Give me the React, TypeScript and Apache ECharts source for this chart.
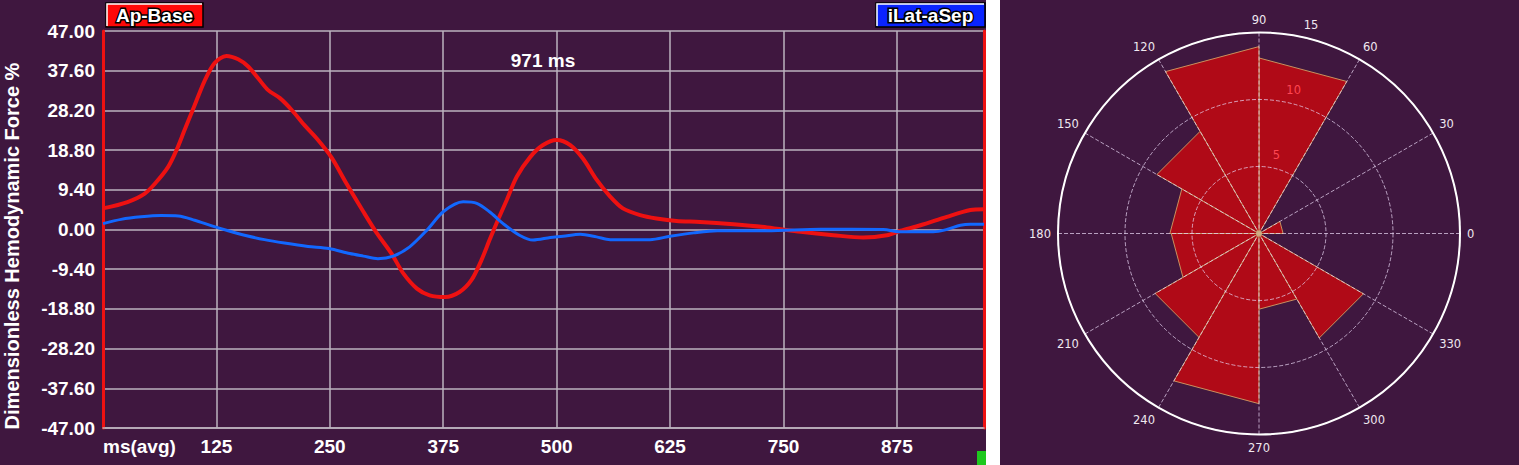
import React, { useEffect, useRef } from "react";
import * as echarts from "echarts";

// ---------- Left panel: hemodynamic force curves ----------
const xTickStep = 125;
const xMax = 971;
const yMin = -47;
const yMax = 47;
const yStep = 9.4;

const redTimes = [0, 27, 46, 59, 72, 81, 90, 101, 112, 123, 136, 149, 160, 171, 182, 195, 208, 222, 237, 252, 268, 287, 301, 318, 331, 346, 360, 377, 393, 406, 417, 426, 436, 445, 456, 471, 485, 500, 515, 529, 544, 559, 573, 592, 610, 632, 658, 695, 732, 769, 805, 838, 864, 879, 901, 930, 956, 971];
const redValues = [5.0, 6.5, 8.5, 11.3, 14.9, 18.8, 23.6, 29.4, 35.2, 39.4, 41.1, 40.3, 38.6, 35.8, 33.0, 31.1, 28.3, 24.7, 21.2, 17.0, 11.0, 4.2, -0.6, -5.7, -10.4, -14.0, -15.6, -16.0, -14.8, -12.0, -7.3, -2.5, 2.6, 7.0, 12.5, 17.2, 20.0, 21.2, 20.0, 16.8, 11.8, 7.8, 5.0, 3.4, 2.6, 2.0, 1.8, 1.25, 0.5, -0.55, -1.35, -1.9, -1.35, -0.3, 1.0, 3.0, 4.6, 4.8];

const blueTimes = [0, 20, 42, 64, 83, 101, 120, 138, 156, 178, 200, 226, 249, 272, 287, 303, 320, 338, 357, 375, 397, 412, 426, 441, 459, 474, 493, 507, 526, 544, 559, 603, 625, 651, 677, 732, 791, 860, 879, 915, 930, 945, 956, 971];
const blueValues = [1.4, 2.4, 3.0, 3.3, 3.2, 2.2, 0.85, -0.3, -1.35, -2.4, -3.2, -4.0, -4.5, -5.7, -6.3, -6.9, -6.3, -4.1, -0.15, 4.2, 6.55, 6.2, 4.2, 1.4, -1.35, -2.5, -1.9, -1.6, -1.1, -1.75, -2.4, -2.4, -1.6, -0.8, -0.3, -0.3, 0.05, 0.0, -0.55, -0.55, 0.0, 1.0, 1.25, 1.25];

const seriesNames = ["Ap-Base", "iLat-aSep"];
const durationLabel = "971 ms";
const yAxisTitle = "Dimensionless Hemodynamic Force %";
const firstXLabel = "ms(avg)";

// ---------- Right panel: polar histogram ----------
const sectorStarts = [0, 30, 60, 90, 120, 150, 180, 210, 240, 270, 300, 330];
const sectorValues = [1.8, 0, 13.1, 13.95, 8.8, 6.65, 6.55, 8.95, 12.7, 5.65, 9.0, 0];
const sectorWidth = 30;
const radiusMax = 15;
const radiusStep = 5;

// ---------- Styles ----------
const BG = "#3f173f";
const GRID = "#bdb3bf";
const RED = "#ee1111";
const BLUE = "#1268ff";
const BAR = "#b00a17";
const EDGE = "#c8905e";
const FONT = "'Liberation Sans', Arial, sans-serif";
const POLAR_FONT = "'DejaVu Sans', Verdana, sans-serif";
const POLAR_DASH = "rgba(232,214,242,0.72)";

const zip = (xs: number[], ys: number[]) => xs.map((x, i) => [x, ys[i]]);

function legendBox(x: number, w: number, fill: string, text: string) {
  return {
    type: "group",
    x,
    y: 3,
    children: [
      { type: "rect", shape: { x: 0, y: 0, width: w, height: 24 }, style: { fill, stroke: "#000", lineWidth: 1.5 } },
      { type: "polyline", shape: { points: [[1, 23], [1, 1], [w - 1, 1]] }, style: { stroke: "#fff", lineWidth: 1.5, fill: null } },
      {
        type: "text",
        x: w / 2,
        y: 12.5,
        style: {
          text,
          fill: "#fff",
          stroke: "#000",
          lineWidth: 3,
          fontFamily: FONT,
          fontWeight: "bold",
          fontSize: 19,
          align: "center",
          verticalAlign: "middle",
        },
      },
    ],
  };
}

export default function App() {
  const ref = useRef<HTMLDivElement>(null);

  useEffect(() => {
    const chart = echarts.init(ref.current!, null, { renderer: "svg" });
    const option: any = {
      animation: false,
      backgroundColor: BG,
      textStyle: { fontFamily: FONT },
      grid: { left: 103, top: 31, width: 881, height: 397, containLabel: false },
      xAxis: {
        type: "value",
        min: 0,
        max: xMax,
        interval: xTickStep,
        axisLine: { show: true, onZero: false, lineStyle: { color: GRID, width: 1.5 } },
        axisTick: { show: false },
        splitLine: { show: true, lineStyle: { color: GRID, width: 1.5 } },
        axisLabel: {
          color: "#fff",
          fontWeight: "bold",
          fontSize: 19,
          fontFamily: FONT,
          margin: 9,
          showMaxLabel: false,
          alignMinLabel: "left",
          formatter: (v: number) => (v === 0 ? firstXLabel : String(v)),
        },
      },
      yAxis: [
        {
          type: "value",
          min: yMin,
          max: yMax,
          interval: yStep,
          axisLine: { show: true, onZero: false, lineStyle: { color: RED, width: 3 } },
          axisTick: { show: false },
          splitLine: { show: true, lineStyle: { color: GRID, width: 1.5 } },
          axisLabel: {
            color: "#fff",
            fontWeight: "bold",
            fontSize: 19,
            fontFamily: FONT,
            margin: 8,
            formatter: (v: number) => (Math.abs(v) < 1e-9 ? 0 : v).toFixed(2),
          },
        },
        {
          type: "value",
          position: "right",
          min: yMin,
          max: yMax,
          interval: yStep,
          axisLine: { show: true, onZero: false, lineStyle: { color: RED, width: 3 } },
          axisTick: { show: false },
          splitLine: { show: false },
          axisLabel: { show: false },
        },
      ],
      polar: [
        { center: [1259, 233.5], radius: 201 },
        { center: [1259, 233.5], radius: 201 },
      ],
      angleAxis: [
        {
          polarIndex: 0,
          type: "value",
          min: 0,
          max: 360,
          interval: 30,
          startAngle: 0,
          clockwise: false,
          z: 3,
          axisLine: { show: true, lineStyle: { color: "#ffffff", width: 2 } },
          axisTick: { show: false },
          axisLabel: { color: "#f0e8f0", fontFamily: POLAR_FONT, fontSize: 11.5, margin: 7 },
          splitLine: { show: true, lineStyle: { color: POLAR_DASH, type: "dashed", width: 1 } },
        },
        {
          polarIndex: 1,
          type: "value",
          min: 0,
          max: 360,
          startAngle: 75,
          show: false,
        },
      ],
      radiusAxis: [
        {
          polarIndex: 0,
          type: "value",
          min: 0,
          max: radiusMax,
          interval: radiusStep,
          z: 3,
          axisLine: { show: false },
          axisTick: { show: false },
          axisLabel: { show: false },
          splitLine: { show: true, lineStyle: { color: POLAR_DASH, type: "dashed", width: 1 } },
        },
        {
          polarIndex: 1,
          type: "value",
          min: 0,
          max: radiusMax,
          interval: radiusStep,
          z: 4,
          axisLine: { show: false },
          axisTick: { show: false },
          splitLine: { show: false },
          axisLabel: {
            showMinLabel: false,
            align: "center",
            verticalAlign: "bottom",
            margin: 0,
            padding: [0, 0, 8, 0],
            fontFamily: POLAR_FONT,
            fontSize: 11.5,
            color: (v: any) => (Number(v) === radiusMax ? "#f0e8f0" : "#ff4652"),
          },
        },
      ],
      series: [
        {
          name: seriesNames[0],
          type: "line",
          xAxisIndex: 0,
          yAxisIndex: 0,
          data: zip(redTimes, redValues),
          smooth: 0.3,
          showSymbol: false,
          lineStyle: { color: RED, width: 4 },
          itemStyle: { color: RED },
          z: 3,
        },
        {
          name: seriesNames[1],
          type: "line",
          xAxisIndex: 0,
          yAxisIndex: 0,
          data: zip(blueTimes, blueValues),
          smooth: 0.3,
          showSymbol: false,
          lineStyle: { color: BLUE, width: 3 },
          itemStyle: { color: BLUE },
          z: 4,
        },
        {
          type: "custom",
          coordinateSystem: "polar",
          polarIndex: 0,
          z: 1,
          encode: { radius: 0, angle: 1 },
          data: sectorStarts.map((a, i) => [sectorValues[i], a, a + sectorWidth]),
          renderItem: (_params: any, api: any) => {
            const r = api.value(0);
            const a0 = api.value(1);
            const a1 = api.value(2);
            if (!r) return null;
            const c = api.coord([0, a0]);
            const p0 = api.coord([r, a0]);
            const p1 = api.coord([r, a1]);
            return {
              type: "polygon",
              shape: { points: [c, p0, p1] },
              style: { fill: BAR, stroke: EDGE, lineWidth: 1 },
            };
          },
        },
        {
          type: "scatter",
          coordinateSystem: "polar",
          polarIndex: 0,
          data: [[0, 0]],
          symbolSize: 6,
          itemStyle: { color: "#c8a870" },
          z: 5,
          silent: true,
        },
      ],
      graphic: [
        { type: "rect", z: 10, shape: { x: 986, y: 0, width: 14, height: 465 }, style: { fill: "#ffffff" } },
        { type: "rect", z: 10, shape: { x: 977, y: 451, width: 9, height: 14 }, style: { fill: "#1ec81e" } },
        { ...legendBox(106, 97, "#ff0808", seriesNames[0]), z: 10 },
        { ...legendBox(876, 109, "#0a24ff", seriesNames[1]), z: 10 },
        {
          type: "text",
          z: 10,
          x: 543,
          y: 60,
          style: {
            text: durationLabel,
            fill: "#fff",
            fontFamily: FONT,
            fontWeight: "bold",
            fontSize: 19,
            align: "center",
            verticalAlign: "middle",
          },
        },
        {
          type: "text",
          z: 10,
          x: 12,
          y: 246,
          rotation: Math.PI / 2,
          style: {
            text: yAxisTitle,
            fill: "#fff",
            fontFamily: FONT,
            fontWeight: "bold",
            fontSize: 20,
            align: "center",
            verticalAlign: "middle",
          },
        },
      ],
    };
    chart.setOption(option);
    return () => chart.dispose();
  }, []);

  return <div ref={ref} style={{ position: "fixed", left: 0, top: 0, width: 1519, height: 465 }} />;
}
